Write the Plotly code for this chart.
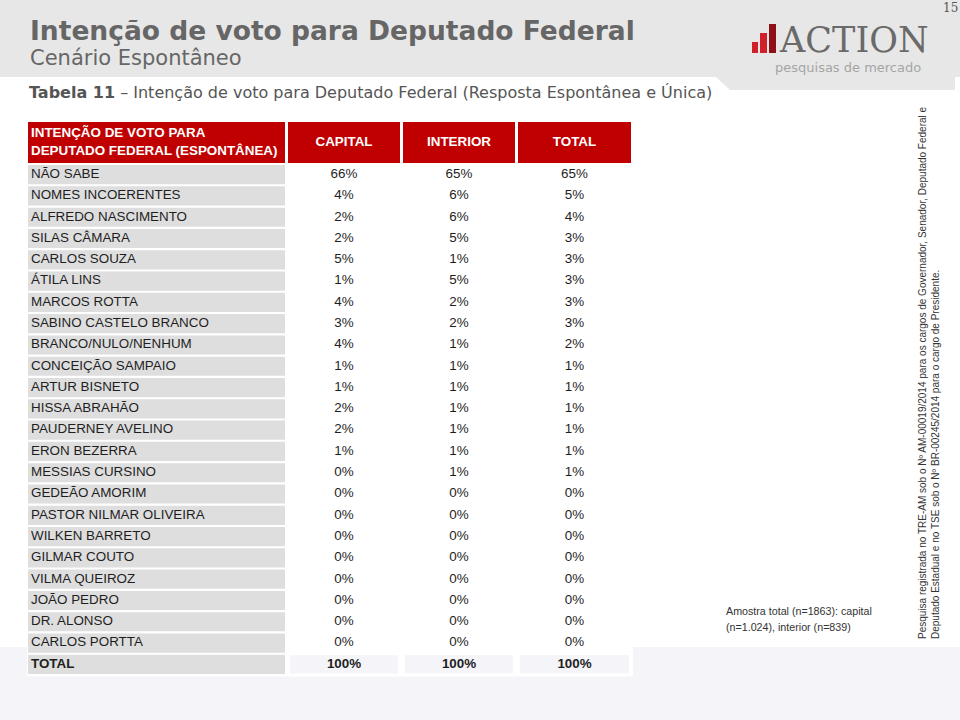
import plotly.graph_objects as go

categorias = ["NÃO SABE", "NOMES INCOERENTES", "ALFREDO NASCIMENTO", "SILAS CÂMARA",
              "CARLOS SOUZA", "ÁTILA LINS", "MARCOS ROTTA", "SABINO CASTELO BRANCO",
              "BRANCO/NULO/NENHUM", "CONCEIÇÃO SAMPAIO", "ARTUR BISNETO", "HISSA ABRAHÃO",
              "PAUDERNEY AVELINO", "ERON BEZERRA", "MESSIAS CURSINO", "GEDEÃO AMORIM",
              "PASTOR NILMAR OLIVEIRA", "WILKEN BARRETO", "GILMAR COUTO", "VILMA QUEIROZ",
              "JOÃO PEDRO", "DR. ALONSO", "CARLOS PORTTA", "TOTAL"]
capital = [66, 4, 2, 2, 5, 1, 4, 3, 4, 1, 1, 2, 2, 1, 0, 0, 0, 0, 0, 0, 0, 0, 0, 100]
interior = [65, 6, 6, 5, 1, 5, 2, 2, 1, 1, 1, 1, 1, 1, 1, 0, 0, 0, 0, 0, 0, 0, 0, 100]
total = [65, 5, 4, 3, 3, 3, 3, 3, 2, 1, 1, 1, 1, 1, 1, 0, 0, 0, 0, 0, 0, 0, 0, 100]
cabecalho = ["INTENÇÃO DE VOTO PARA<br>DEPUTADO FEDERAL (ESPONTÂNEA)", "CAPITAL", "INTERIOR", "TOTAL"]

W, H = 960, 720
RED = "#c00000"
GRAY = "#dedede"
LAV = "#f5f5f9"
TXT = "#1e1e1e"
FONT = "Liberation Sans"
FS = 13.4

# column layout (pixels)
col_left = [28, 288, 403, 518]
col_right = [285, 400, 515, 631]
col_w = [r - l for l, r in zip(col_left, col_right)]
col_c = [(l + r) / 2 for l, r in zip(col_left, col_right)]

def X(px):
    return px / W

def Y(py):
    return 1 - py / H

def bold_if_total(items):
    return [f"<b>{t}</b>" if c == "TOTAL" else t for c, t in zip(categorias, items)]

fig = go.Figure()

# header (y2)
fig.add_trace(go.Bar(
    y=["hdr"] * 4, x=col_w, base=col_left, orientation="h", width=1.0,
    marker=dict(color=RED, line_width=0), xaxis="x", yaxis="y2", hoverinfo="skip"))
fig.add_trace(go.Scatter(
    x=[col_left[0] + 3], y=["hdr"], mode="text", text=[f"<b>{cabecalho[0]}</b>"],
    textposition="middle right", textfont=dict(family=FONT, size=FS, color="white"),
    xaxis="x", yaxis="y2", hoverinfo="skip"))
fig.add_trace(go.Scatter(
    x=col_c[1:], y=["hdr"] * 3, mode="text", text=[f"<b>{h}</b>" for h in cabecalho[1:]],
    textposition="middle center", textfont=dict(family=FONT, size=FS, color="white"),
    xaxis="x", yaxis="y2", hoverinfo="skip"))

# body rows (y)
fig.add_trace(go.Bar(
    y=categorias, x=[col_w[0]] * len(categorias), base=col_left[0], orientation="h", width=0.9,
    marker=dict(color=GRAY, line_width=0), hoverinfo="skip"))
fig.add_trace(go.Bar(
    y=["TOTAL"] * 3, x=[w - 4 for w in col_w[1:]], base=[l + 2 for l in col_left[1:]],
    orientation="h", width=0.86, marker=dict(color=LAV, line_width=0), hoverinfo="skip"))
fig.add_trace(go.Scatter(
    x=[col_left[0] + 3] * len(categorias), y=categorias, mode="text", text=bold_if_total(categorias),
    textposition="middle right", textfont=dict(family=FONT, size=FS, color=TXT), hoverinfo="skip"))
for i, serie in enumerate([capital, interior, total]):
    fig.add_trace(go.Scatter(
        x=[col_c[i + 1]] * len(serie), y=categorias, mode="text",
        text=bold_if_total([f"{v}%" for v in serie]),
        textposition="middle center", textfont=dict(family=FONT, size=FS, color=TXT), hoverinfo="skip"))

def rect(x0, y0, x1, y1, color, layer="below"):
    return dict(type="rect", xref="paper", yref="paper", x0=X(x0), x1=X(x1), y0=Y(y0), y1=Y(y1),
                fillcolor=color, line_width=0, layer=layer)

shapes = [
    rect(0, 0, W, 77, "#e7e7e7"),
    dict(type="path", xref="paper", yref="paper", layer="below", line_width=0, fillcolor="#e7e7e7",
         path=f"M {X(716)} {Y(77)} L {X(730)} {Y(90)} L {X(955)} {Y(90)} L {X(955)} {Y(77)} Z"),
    rect(0, 647, W, H, LAV),
    rect(27, 119, 633, 676.5, "white"),
    # logo bars
    rect(752, 42, 758, 53, "#d0202a", "above"),
    rect(760, 33, 767, 53, "#d0202a", "above"),
    rect(769, 24, 776, 53, "#8e1018", "above"),
]

def note(x, y, text, size, color, family="DejaVu Sans", xanchor="left", **kw):
    d = dict(xref="paper", yref="paper", x=X(x), y=Y(y), text=text, showarrow=False,
             xanchor=xanchor, yanchor="middle", font=dict(family=family, size=size, color=color))
    d.update(kw)
    return d

ann = [
    note(28, 31, "<b>Intenção de voto para Deputado Federal</b>", 26.5, "#666666"),
    note(28, 58, "Cenário Espontâneo", 21, "#666666"),
    note(27, 92, "<b>Tabela 11</b> – Intenção de voto para Deputado Federal (Resposta Espontânea e Única)",
         16, "#555555"),
    note(777, 40, "ACTION", 35, "#6a6a6a", family="DejaVu Serif"),
    note(923, 67, "pesquisas de mercado", 13, "#a5a5a5", xanchor="right"),
    note(950, 8, "15", 12, "#555555", family="DejaVu Serif", xanchor="center"),
    note(724, 611, "Amostra total (n=1863): capital", 10.7, "#333333", family=FONT),
    note(724, 627, "(n=1.024), interior (n=839)", 10.7, "#333333", family=FONT),
    dict(xref="paper", yref="paper", x=X(928.5), y=Y(641), textangle=-90, align="left",
         xanchor="center", yanchor="bottom", showarrow=False,
         text="Pesquisa registrada no TRE-AM sob o Nº AM-00019/2014 para os cargos de Governador, Senador, Deputado Federal e<br>"
              "Deputado Estadual e no TSE sob o Nº BR-00245/2014 para o cargo de Presidente.",
         font=dict(family=FONT, size=10, color="#333333")),
]

n = len(categorias)
fig.update_layout(
    width=W, height=H, margin=dict(l=0, r=0, t=0, b=0),
    paper_bgcolor="white", plot_bgcolor="rgba(0,0,0,0)",
    barmode="overlay", showlegend=False,
    xaxis=dict(range=[0, W], visible=False, domain=[0, 1], fixedrange=True),
    yaxis=dict(type="category", categoryorder="array", categoryarray=categorias,
               range=[n - 0.5, -0.5], domain=[Y(675), Y(164)], visible=False, fixedrange=True),
    yaxis2=dict(type="category", range=[0.5, -0.5], domain=[Y(163), Y(122)], visible=False,
                fixedrange=True, anchor="x"),
    shapes=shapes, annotations=ann,
)

fig.write_html("out.html", config=dict(displayModeBar=False, staticPlot=True),
               post_script="document.body.style.margin='0px';document.body.style.overflow='hidden';")
